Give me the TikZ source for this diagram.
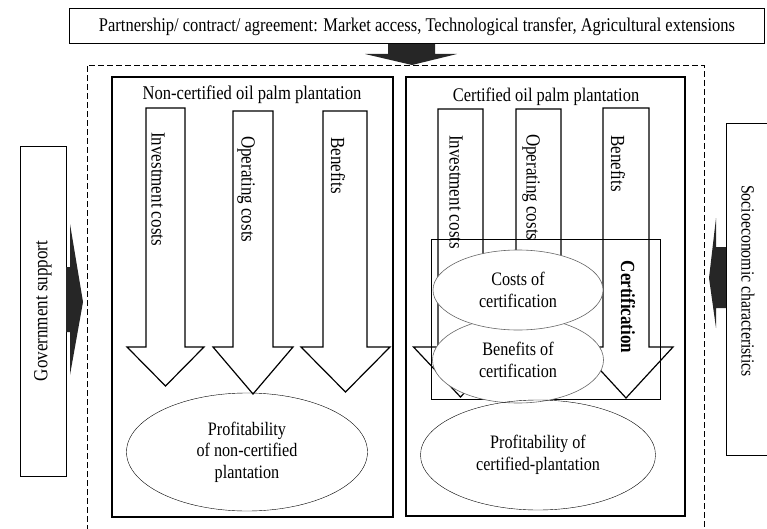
\documentclass[tikz,border=0pt]{standalone}
\usepackage{fontspec}
\setmainfont[FakeStretch=0.85]{Liberation Serif}
\usetikzlibrary{shapes.geometric}
\tikzset{
  panel/.style={line width=2.6pt},
  hollow/.style={draw, fill=white, line width=1.2pt},
  blockarrow/.style={fill=black!85},
  vlabel/.style={rotate=-90, anchor=west, inner sep=0pt, font=\fontsize{20}{24}\selectfont},
  oval/.style={ellipse, draw, align=center, inner sep=0pt, font=\fontsize{19}{21.5}\selectfont},
  thinoval/.style={ellipse, draw=black!60, fill=white, line width=0.6pt, align=center, inner sep=0pt, font=\fontsize{19}{21.5}\selectfont},
}

\begin{document}
\begin{tikzpicture}[x=1pt, y=-1pt]
            \useasboundingbox (0, 0) rectangle (767, 529);

            % top box
            \draw[line width=1pt](69, 9) rectangle (764, 44);
            \node at(417, 27)(partner){\fontsize{19.4}{22}\selectfont Partnership/ contract/ agreement: Market access, Technological transfer, Agricultural extensions};
            \fill[blockarrow](388, 44) -- (435, 44) -- (435, 54) -- (457, 54) -- (412, 65) -- (365, 54) -- (388, 54) -- cycle;

            \draw[dash pattern=on 6pt off 3pt](87, 540) -- (87, 65) -- (704, 65) -- (704, 540);

            % panels
            \draw[panel](112, 77) rectangle (393, 517);
            \draw[panel](406, 77) rectangle (685, 516);
            \node at(252, 95)(noncert){\fontsize{19.5}{22}\selectfont Non-certified oil palm plantation};
            \node at(546, 97)(cert){\fontsize{19.3}{22}\selectfont Certified oil palm plantation};

            % non-certified
            \draw[hollow](146, 108) -- (185, 108) -- (185, 347) -- (204, 347) -- (165.5, 386) -- (127, 347) -- (146, 347) -- cycle;
            \draw[hollow](233, 111) -- (273, 111) -- (273, 347) -- (293, 347) -- (253, 394) -- (213, 347) -- (233, 347) -- cycle;
            \draw[hollow](323, 111) -- (367, 111) -- (367, 347) -- (390, 347) -- (345.5, 392) -- (301, 347) -- (323, 347) -- cycle;
            \node[vlabel] at(158, 132)(invnc){Investment costs};
            \node[vlabel] at(246, 136)(opnc){Operating costs};
            \node[vlabel] at(338, 137)(bennc){Benefits};
            \node[oval, minimum width=241, minimum height=118] at(247, 452)(profnc){Profitability\\of non-certified\\plantation};

            % certified
            \draw[hollow](438, 109) -- (483, 109) -- (483, 347) -- (507.5, 347) -- (460.5, 397) -- (413.5, 347) -- (438, 347) -- cycle;
            \draw[hollow](516, 109) -- (561, 109) -- (561, 347) -- (585.5, 347) -- (538.5, 397) -- (491.5, 347) -- (516, 347) -- cycle;
            \draw[hollow](603, 108) -- (649, 108) -- (649, 347) -- (673, 347) -- (626, 398) -- (579, 347) -- (603, 347) -- cycle;
            \node[vlabel] at(456, 135)(invc){Investment costs};
            \node[vlabel] at(531, 134)(opc){Operating costs};
            \node[vlabel] at(618, 135)(benc){Benefits};
            \node[vlabel, anchor=center, font=\fontsize{20}{24}\selectfont\bfseries] at(628, 307)(certif){Certification};
            \draw[line width=0.8pt](431, 239) rectangle (660, 399);
            \node[thinoval, minimum width=171, minimum height=86] at(518, 360)(bencert){Benefits of\\certification};
            \node[thinoval, minimum width=170, minimum height=80] at(518, 290)(costcert){Costs of\\certification};
            \node[oval, minimum width=235, minimum height=110] at(538, 455)(profc){Profitability of\\certified-plantation};

            % government support
            \draw[line width=1pt](20, 147) rectangle (66, 476);
            \node[rotate=90] at(43, 311)(gov){\fontsize{20}{24}\selectfont Government support};
            \fill[blockarrow](66, 267) -- (70, 267) -- (70, 224) -- (83, 302) -- (70, 375) -- (70, 332) -- (66, 332) -- cycle;

            % socioeconomic characteristics
            \draw[line width=1pt](780, 124) -- (726, 124) -- (726, 455) -- (780, 455);
            \node[rotate=-90] at(748, 281)(socio){\fontsize{18.6}{22}\selectfont Socioeconomic characteristics};
            \fill[blockarrow](726, 247) -- (716, 247) -- (716, 218) -- (709, 278) -- (716, 328) -- (716, 308) -- (726, 308) -- cycle;
\end{tikzpicture}
\end{document}
